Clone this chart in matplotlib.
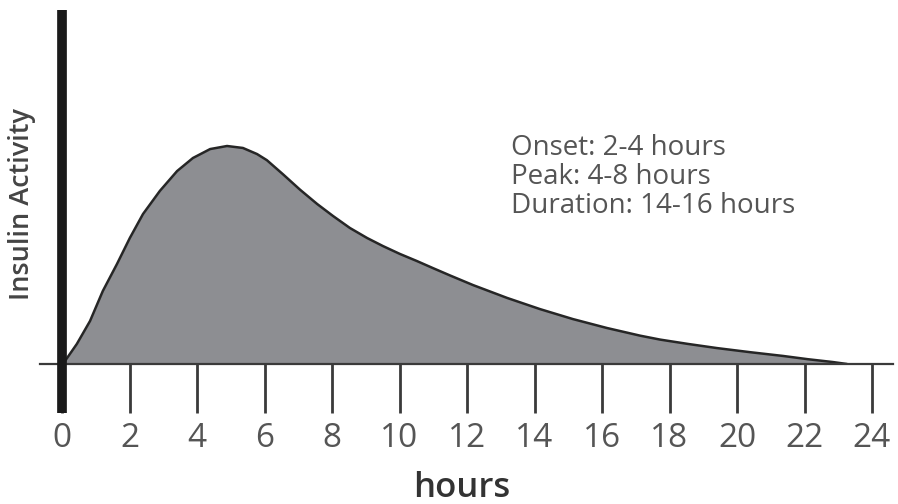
import matplotlib
matplotlib.use("Agg")
import matplotlib.pyplot as plt

# Data
hours = [0, 0.09, 0.44, 0.83, 1.21, 1.63, 2.01, 2.40, 2.90, 3.41, 3.88, 4.39,
         4.89, 5.36, 5.78, 6.07, 6.55, 7.05, 7.56, 8.03, 8.53, 9.04, 9.51,
         10.01, 10.52, 10.99, 11.50, 12.18, 13.19, 14.16, 15.14, 16.15,
         17.13, 17.72, 18.55, 19.41, 20.40, 21.36, 22.10, 22.84, 23.26]
activity = [0, 0.014, 0.092, 0.197, 0.335, 0.459, 0.578, 0.688, 0.794, 0.885,
            0.945, 0.986, 1.0, 0.991, 0.963, 0.935, 0.870, 0.800, 0.734,
            0.679, 0.624, 0.578, 0.541, 0.505, 0.472, 0.440, 0.406, 0.362,
            0.303, 0.252, 0.206, 0.165, 0.130, 0.112, 0.092, 0.073, 0.054,
            0.037, 0.022, 0.009, 0]
xticks = list(range(0, 25, 2))
xtick_labels = [str(t) for t in xticks]
notes = ["Onset: 2-4 hours", "Peak: 4-8 hours", "Duration: 14-16 hours"]

W, H = 898, 504
fig = plt.figure(figsize=(W / 100, H / 100), dpi=100)
plt.rcParams['font.family'] = ['Open Sans', 'DejaVu Sans']

# axes geometry in pixels
x0_px, px_per_h = 62, 33.75
left_px, right_px = 40, 893
base_px, top_px = 364, 10
unit_px = 218.0

ax = fig.add_axes([left_px / W, (H - base_px) / H, (right_px - left_px) / W,
                   (base_px - top_px) / H])
ax.set_xlim((left_px - x0_px) / px_per_h, (right_px - x0_px) / px_per_h)
ax.set_ylim(0, (base_px - top_px) / unit_px)

ax.fill_between(hours, activity, 0, color='#8d8e92', zorder=1, linewidth=0)
ax.plot(hours, activity, color='#262626', linewidth=1.8, zorder=2,
        solid_joinstyle='round', solid_capstyle='round')

for s in ['top', 'right', 'left']:
    ax.spines[s].set_visible(False)
ax.spines['bottom'].set_color('#3a3a3a')
ax.spines['bottom'].set_linewidth(1.6)
ax.set_yticks([])
ax.set_xticks(xticks)
ax.set_xticklabels(xtick_labels)
ax.tick_params(axis='x', direction='out', length=35, width=2.0,
               color='#3a3a3a', pad=7, labelsize=24, labelcolor='#555555')

# thick y axis line
ax.plot([0, 0], [(base_px - top_px) / unit_px, -(413 - base_px) / unit_px],
        color='#1a1a1a', linewidth=7, clip_on=False, zorder=5,
        solid_capstyle='butt')

fig.text(462 / W, 1 - 488 / H, "hours", ha='center', va='center',
         fontsize=25, fontweight='semibold', color='#333333')
fig.text(22 / W, 1 - 204 / H, "Insulin Activity", ha='center', va='center',
         rotation=90, fontsize=19.5, fontweight='semibold', color='#444444')

for i, line in enumerate(notes):
    fig.text(511 / W, 1 - (155 + 29 * i) / H, line, ha='left',
             va='baseline', fontsize=20, color='#555555')

fig.savefig("out.png", dpi=100, facecolor='white')
